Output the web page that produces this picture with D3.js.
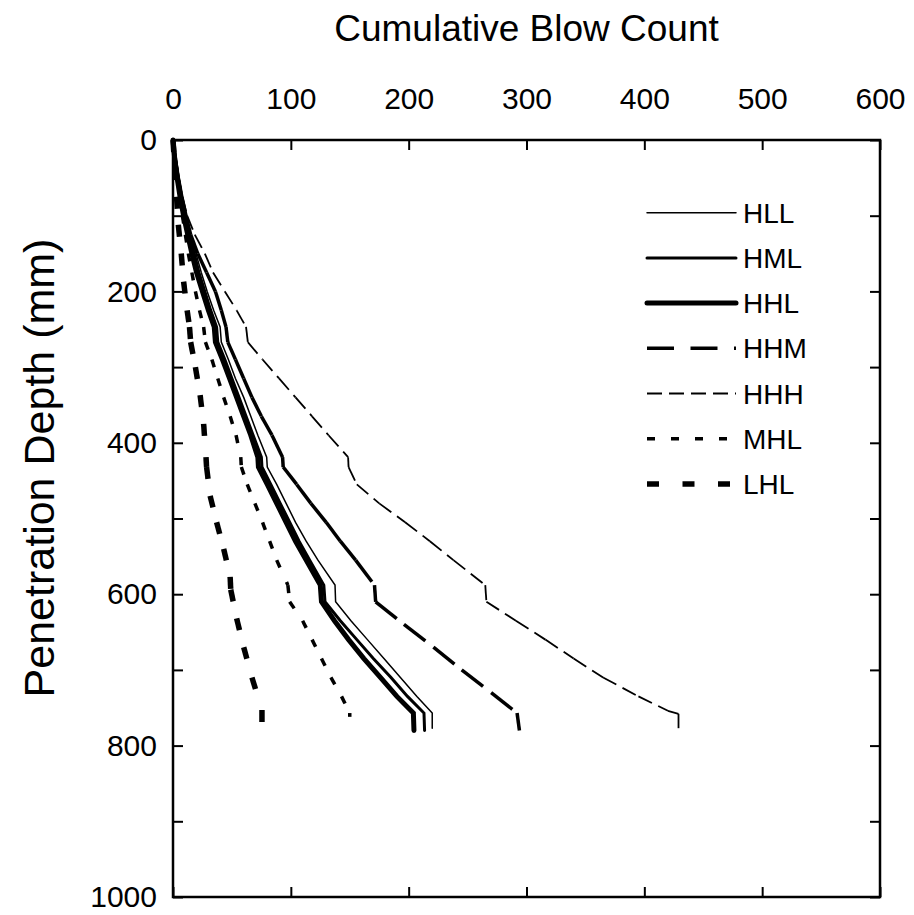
<!DOCTYPE html>
<meta charset="utf-8">
<head>
    <script src="https://d3js.org/d3.v7.min.js"></script>
    <style>
        body { margin: 0; background: #fff; }
        svg { font-family: Arial, "Liberation Sans", sans-serif; }
    </style>
</head>
<body>
<div id="chart"></div>
<script>
// series names, in legend order
var seriesNames = ["HLL", "HML", "HHL", "HHM", "HHH", "MHL", "LHL"];

// [cumulative blows, depth mm]
var HLL = [[0,0],[2.5,25],[5,50],[8,75],[11.5,100],[15,125],[19.5,150],[24,175],[29,200],[34.5,225],[40,247],[41,267],[47,290],[53,315],[60,340],[66,365],[72,390],[79.5,419],[80,432],[88,455],[96,480],[104,505],[113,530],[123,555],[137.5,588],[138,610],[151,635],[165,660],[179,685],[193,710],[207,735],[220,757],[220,777]];
var HML = [[0,0],[2,25],[4.5,50],[7,75],[10.5,100],[14,125],[18,150],[22,175],[27,200],[32,225],[37,247],[38,267],[44,290],[50,315],[56,340],[62,365],[68,390],[75,419],[75.5,432],[83,455],[91,480],[99,505],[107,530],[116,555],[128,588],[129,610],[142,635],[156,660],[170,685],[185,710],[199,735],[213,757],[213.5,780]];
var HHL = [[0,0],[1.5,25],[3.5,50],[6,75],[9,100],[12.5,125],[16,150],[20,175],[25,200],[30,225],[35,247],[36,267],[42,290],[48,315],[54,340],[60,365],[66,390],[72,419],[72.5,432],[80,455],[88,480],[96,505],[104,530],[113,555],[125,588],[126,610],[137,635],[149,660],[162,685],[176,710],[190,735],[204,757],[204.5,780]];
var HHM = [[0,0],[2,25],[4.5,50],[7.5,75],[11,100],[15,125],[21,150],[28.5,175],[36,200],[41,225],[45,247],[46.5,267],[53,290],[60,315],[67,340],[75,365],[84,390],[93,419],[93.5,432],[105,455],[117,480],[130,505],[142,530],[155,555],[171,588],[172,610],[196,640],[221,670],[245,700],[270,730],[292,757],[294,780]];
var HHH = [[0,0],[2.5,25],[5,50],[8,75],[12,100],[18.5,125],[27,150],[34,175],[44,200],[54,225],[62,247],[63.5,267],[76,290],[90,315],[104,340],[118,365],[132,390],[148.6,419],[149,432],[156,455],[175,480],[197,505],[218,530],[238,555],[265,588],[266,610],[291,635],[316,660],[340,685],[365,710],[395,735],[420,754],[429,758],[429,777]];
var MHL = [[0,0],[1.5,25],[3.5,50],[5.5,75],[8,100],[10.5,125],[13,150],[16,175],[19,200],[22.5,225],[26,247],[27.5,267],[33,290],[38,315],[43,340],[48.5,365],[53.5,390],[57.5,419],[58,432],[63,455],[69.5,480],[76,505],[82,530],[88,555],[97.5,588],[99,610],[110,635],[118,660],[126,685],[134,710],[143,735],[150,757],[150,762]];
var LHL = [[0,0],[1.5,37],[3,75],[4.5,112],[7,150],[9,187],[12,225],[14,247],[15,267],[19,300],[23,337],[26,375],[28,419],[28.5,432],[31.5,470],[37,505],[43,540],[48.5,577],[49,594],[54,632],[60,670],[67,710],[75.5,753],[75.5,769]];

var seriesData = {HLL: HLL, HML: HML, HHL: HHL, HHM: HHM, HHH: HHH, MHL: MHL, LHL: LHL};

// axis ticks
var xTicks = [0, 100, 200, 300, 400, 500, 600];
var yTicks = [0, 100, 200, 300, 400, 500, 600, 700, 800, 900, 1000];
var yLabels = [0, 200, 400, 600, 800, 1000];

// line styles per series
var styles = {
  HLL: {w: 1.5, dash: null, cap: "round"},
  HML: {w: 3, dash: null, cap: "round"},
  HHL: {w: 5, dash: null, cap: "round"},
  HHM: {w: 3.5, dash: "27,16.5", cap: "butt"},
  HHH: {w: 1.8, dash: "15,7", cap: "butt"},
  MHL: {w: 3.5, dash: "8,16", cap: "butt"},
  LHL: {w: 5.5, dash: "12,23.5", cap: "butt"}
};

var W = 914, H = 915;
var margin = {top: 140, right: 34, bottom: 18, left: 173};
var width = W - margin.left - margin.right,
    height = H - margin.top - margin.bottom;

var svg = d3.select("#chart")
  .append("svg")
    .attr("width", W)
    .attr("height", H)
  .append("g")
    .attr("transform", "translate(" + margin.left + "," + margin.top + ")");

var x = d3.scaleLinear().domain([0, 600]).range([0, width]);
var y = d3.scaleLinear().domain([0, 1000]).range([0, height]);

// axes: ticks pointing inside on all four sides
var topAxis = svg.append("g")
  .call(d3.axisTop(x).tickValues(xTicks).tickSize(-10).tickPadding(31));
var bottomAxis = svg.append("g")
  .attr("transform", "translate(0," + height + ")")
  .call(d3.axisBottom(x).tickValues(xTicks).tickSize(-10).tickFormat(""));
var leftAxis = svg.append("g")
  .call(d3.axisLeft(y).tickValues(yTicks).tickSize(-10).tickPadding(16)
    .tickFormat(function(d) { return yLabels.indexOf(d) >= 0 ? d : ""; }));
var rightAxis = svg.append("g")
  .attr("transform", "translate(" + width + ",0)")
  .call(d3.axisRight(y).tickValues(yTicks).tickSize(-10).tickFormat(""));

[topAxis, bottomAxis, leftAxis, rightAxis].forEach(function(a) {
  a.select(".domain").remove();
  a.selectAll("line").attr("stroke", "#000").attr("stroke-width", 2);
  a.selectAll("text").attr("font-size", 30).attr("fill", "#000")
    .attr("font-family", "Arial, 'Liberation Sans', sans-serif");
});

// frame
svg.append("rect")
  .attr("x", 0).attr("y", 0)
  .attr("width", width).attr("height", height)
  .attr("fill", "none")
  .attr("stroke", "#000")
  .attr("stroke-width", 2.5);

// series lines
var line = d3.line()
  .x(function(d) { return x(d[0]); })
  .y(function(d) { return y(d[1]); });

seriesNames.forEach(function(name) {
  var s = styles[name];
  var pts = seriesData[name];
  if (!s.dash) {
    svg.append("path")
      .datum(pts)
      .attr("fill", "none")
      .attr("stroke", "#000")
      .attr("stroke-width", s.w)
      .attr("stroke-linecap", s.cap)
      .attr("stroke-linejoin", "miter")
      .attr("d", line);
  } else {
    // the original plot restarts the dash pattern on every segment
    svg.append("g").selectAll("line")
      .data(d3.pairs(pts))
      .enter().append("line")
        .attr("x1", function(d) { return x(d[0][0]); })
        .attr("y1", function(d) { return y(d[0][1]); })
        .attr("x2", function(d) { return x(d[1][0]); })
        .attr("y2", function(d) { return y(d[1][1]); })
        .attr("stroke", "#000")
        .attr("stroke-width", s.w)
        .attr("stroke-dasharray", s.dash)
        .attr("stroke-linecap", s.cap);
  }
});

// legend
var legend = svg.append("g").attr("transform", "translate(" + (647 - margin.left) + "," + (212.7 - margin.top) + ")");
seriesNames.forEach(function(name, i) {
  var s = styles[name];
  var g = legend.append("g").attr("transform", "translate(0," + (i * 45.2) + ")");
  g.append("line")
    .attr("x1", 0).attr("x2", 89)
    .attr("y1", 0).attr("y2", 0)
    .attr("stroke", "#000")
    .attr("stroke-width", s.w)
    .attr("stroke-dasharray", s.dash)
    .attr("stroke-linecap", s.cap);
  g.append("text")
    .attr("x", 96)
    .attr("y", 0)
    .attr("dy", "0.36em")
    .attr("font-size", 28)
    .text(name);
});

// axis titles
svg.append("text")
  .attr("x", width / 2)
  .attr("y", 41 - margin.top)
  .attr("text-anchor", "middle")
  .attr("font-size", 37)
  .text("Cumulative Blow Count");

svg.append("text")
  .attr("transform", "translate(" + (54 - margin.left) + "," + (468 - margin.top) + ") rotate(-90)")
  .attr("text-anchor", "middle")
  .attr("font-size", 43)
  .text("Penetration Depth (mm)");
</script>
</body>
